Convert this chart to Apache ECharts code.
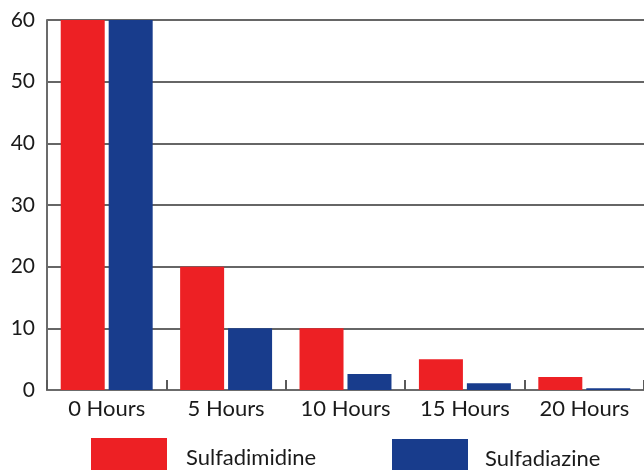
<!DOCTYPE html>
<html>
<head>
<meta charset="utf-8">
<script src="https://cdn.jsdelivr.net/npm/echarts@6/dist/echarts.min.js"></script>
<style>
html, body { margin: 0; padding: 0; background: #fff; }
#chart { width: 644px; height: 470px; }
</style>
</head>
<body>
<div id="chart"></div>
<script>
// data
const categories = ['0 Hours', '5 Hours', '10 Hours', '15 Hours', '20 Hours']
const sulfadimidine = [60, 20, 10, 5, 2.1]
const sulfadiazine = [60, 10, 2.6, 1.1, 0.3]

const myChart = echarts.init(document.getElementById('chart'))
const fontFamily = 'Lato, "DejaVu Sans", sans-serif'

const option = {
    animation: false,
    color: ['#ED2024', '#183C8C'],
    textStyle: { fontFamily: fontFamily },
    legend: [
        {
            data: ['Sulfadimidine'],
            left: 91,
            top: 438,
            padding: 0,
            itemWidth: 76,
            itemHeight: 40,
            icon: 'rect',
            textStyle: { fontSize: 22, color: '#1a1a1a', fontFamily: fontFamily, padding: [2, 0, 0, 14] }
        },
        {
            data: ['Sulfadiazine'],
            left: 392,
            top: 439,
            padding: 0,
            itemWidth: 76,
            itemHeight: 40,
            icon: 'rect',
            textStyle: { fontSize: 22, color: '#1a1a1a', fontFamily: fontFamily, padding: [4, 0, 0, 12] }
        }
    ],
    grid: {
        left: 47,
        top: 20,
        width: 600,
        bottom: 80,
        containLabel: false
    },
    xAxis: {
        type: 'category',
        data: categories,
        axisLine: { lineStyle: { color: '#6b6b6b', width: 2 } },
        axisTick: {
            show: true,
            inside: true,
            length: 10,
            alignWithLabel: false,
            lineStyle: { color: '#5a5a5a', width: 2 }
        },
        axisLabel: { fontSize: 22, color: '#1a1a1a', margin: 8, fontFamily: fontFamily }
    },
    yAxis: {
        type: 'value',
        min: 0,
        max: 60,
        interval: 10,
        axisLine: { show: true, lineStyle: { color: '#6b6b6b', width: 2 } },
        axisTick: { show: false },
        axisLabel: { fontSize: 21, color: '#1a1a1a', margin: 12, fontFamily: fontFamily },
        splitLine: { lineStyle: { color: '#333', width: 1.5 } }
    },
    series: [
        {
            name: 'Sulfadimidine',
            type: 'bar',
            data: sulfadimidine,
            barWidth: 44,
            barGap: '9%'
        },
        {
            name: 'Sulfadiazine',
            type: 'bar',
            data: sulfadiazine,
            barWidth: 44,
            barGap: '9%'
        }
    ]
}
myChart.setOption(option)
</script>
</body>
</html>
